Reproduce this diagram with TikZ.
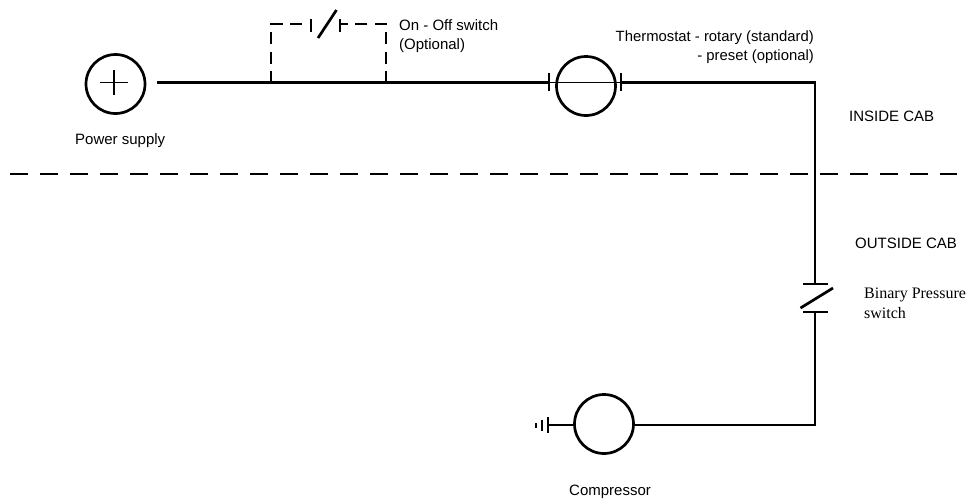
\documentclass[tikz,border=0pt]{standalone}
\usepackage{fontspec}
\setmainfont{Liberation Sans}
\newfontfamily\serifnote{Liberation Serif}
\usetikzlibrary{positioning}

\begin{document}
\begin{tikzpicture}[
    x=1pt,y=-1pt,
    device/.style={circle,draw,line width=2.7pt,minimum size=59pt,inner sep=0pt},
    label/.style={inner sep=0pt,font=\fontsize{15}{19}\selectfont},
    wire/.style={draw,line width=2.7pt},
    thinwire/.style={draw,line width=1.9pt},
    optional/.style={draw,line width=2.3pt,dash pattern=on 12pt off 7.5pt},
    divider/.style={draw,line width=1.8pt,dash pattern=on 18pt off 12pt}]

    \useasboundingbox (0,0) rectangle (967,499);

    % Main devices
    \node[device] (power) at (115.5,84) {};
    \node[device] (thermostat) at (586,86) {};
    \node[device] (compressor) at (604,424) {};

    % Plus sign of the supply
    \coordinate (plusw) at (100,82.5);
    \coordinate (pluse) at (128,82.5);
    \coordinate (plusn) at (114,70);
    \coordinate (pluss) at (114,95);
    \path[thinwire] (plusw) -- (pluse);
    \path[thinwire] (plusn) -- (pluss);

    % Thermostat contacts
    \coordinate (thermleft) at (549,82.5);
    \coordinate (thermright) at (621,82.5);
    \coordinate (thermleftn) at (549,73);
    \coordinate (thermlefts) at (549,91);
    \coordinate (thermrightn) at (621,73);
    \coordinate (thermrights) at (621,91);
    \path[thinwire] (thermleftn) -- (thermlefts);
    \path[thinwire] (thermrightn) -- (thermrights);
    \path[thinwire] (thermleft) -- (thermright);

    % Main circuit
    \coordinate (supplyend) at (157,82.5);
    \coordinate (corner) at (815,82.5);
    \coordinate (binarytop) at (815,284);
    \coordinate (binarybottom) at (815,312);
    \coordinate (compcorner) at (815,425);
    \coordinate (compeast) at (compressor.east |- compcorner);
    \coordinate (compwest) at (compressor.west |- compcorner);
    \path[wire] (supplyend) -- (thermleft);
    \path[wire] (thermright) -- (corner) -- (binarytop);
    \path[wire] (binarybottom) -- (compcorner) -- (compeast);

    % Binary switch
    \coordinate (binarytopw) at (803,284);
    \coordinate (binarytope) at (828,284);
    \coordinate (binarybotw) at (803,312);
    \coordinate (binarybote) at (828,312);
    \coordinate (bladelow) at (800.5,308);
    \coordinate (bladehigh) at (833,288);
    \path[wire] (binarytopw) -- (binarytope);
    \path[wire] (binarybotw) -- (binarybote);
    \path[wire] (bladelow) -- (bladehigh);

    % Optional switch
    \coordinate (tapleft) at (271,83);
    \coordinate (tapright) at (386,83);
    \coordinate (optleft) at (271,24);
    \coordinate (optright) at (386,24);
    \coordinate (contactleft) at (311,24);
    \coordinate (contactright) at (340,24);
    \coordinate (contactstub) at (347,24);
    \coordinate (contactln) at (311,19);
    \coordinate (contactls) at (311,32);
    \coordinate (contactrn) at (340,19);
    \coordinate (contactrs) at (340,32);
    \coordinate (optbladelow) at (318,38);
    \coordinate (optbladehigh) at (336.5,10);
    \path[optional] (tapleft) -- (optleft) -- (contactleft);
    \path[optional] (tapright) -- (optright) -- (contactright);
    \path[thinwire] (contactln) -- (contactls);
    \path[thinwire] (contactrn) -- (contactrs);
    \path[thinwire] (contactright) -- (contactstub);
    \path[wire] (optbladelow) -- (optbladehigh);

    % Ground
    \coordinate (groundn) at (548,417);
    \coordinate (grounds) at (548,433);
    \coordinate (groundstem) at (548,425);
    \coordinate (groundmidn) at (542,420);
    \coordinate (groundmids) at (542,431);
    \coordinate (groundlown) at (536,423);
    \coordinate (groundlows) at (536,428);
    \path[wire] (compwest) -- (groundstem);
    \path[thinwire] (groundn) -- (grounds);
    \path[thinwire] (groundmidn) -- (groundmids);
    \path[thinwire] (groundlown) -- (groundlows);

    % Cab boundary
    \coordinate (cableft) at (10,174);
    \coordinate (cabright) at (957,174);
    \path[divider] (cableft) -- (cabright);

    % Labels
    \node[label,anchor=west] (powerlabel) at (75,140.5) {Power supply};
    \node[label,anchor=north west,align=left] (switchlabel) at (399,19) {On - Off switch\\(Optional)};
    \node[label,anchor=north east,align=right,font=\fontsize{14.85}{19}\selectfont] (thermlabel) at (814,31) {Thermostat - rotary (standard)\\- preset (optional)};
    \node[label,anchor=west] (insidelabel) at (849,116) {INSIDE CAB};
    \node[label,anchor=west] (outsidelabel) at (855,243) {OUTSIDE CAB};
    \node[label,anchor=north west,align=left,font=\serifnote\fontsize{16}{20}\selectfont] (binarylabel) at (864,288) {Binary Pressure\\switch};
    \node[label,anchor=west] (complabel) at (569,492) {Compressor};
\end{tikzpicture}
\end{document}
